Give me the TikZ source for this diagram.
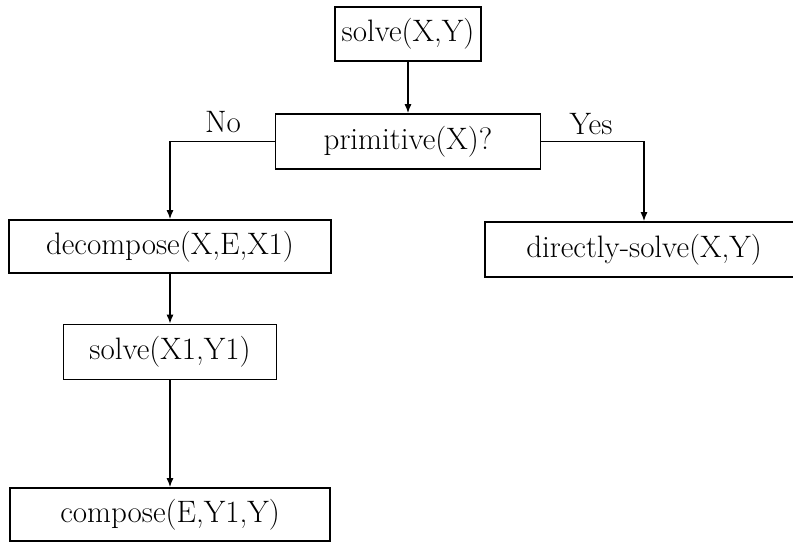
\documentclass[tikz,border=0pt]{standalone}
\usepackage{tikz}
\usetikzlibrary{arrows.meta}
\tikzset{
    box/.style={draw=black, line width=0.8pt, inner sep=0pt, font=\fontsize{15.5}{18}\selectfont},
    flow/.style={-{Latex[length=4.5pt,width=3.5pt]}, line width=0.7pt},
    answer/.style={font=\fontsize{15.5}{18}\selectfont}
}

\begin{document}
\begin{tikzpicture}[x=0.5pt, y=0.5pt]
    \useasboundingbox (0,0) rectangle (793,543);
    \node[box, minimum width=73pt, minimum height=27pt] (solve) at (408,509) {solve(X,Y)};
    \node[box, minimum width=132.5pt, minimum height=27.5pt] (primitive) at (408,401.5) {primitive(X)?};
    \node[box, minimum width=161pt, minimum height=26.5pt] (decompose) at (170,296.5) {decompose(X,E,X1)};
    \node[box, minimum width=159pt, minimum height=27.5pt] (direct) at (644,293.5) {directly-solve(X,Y)};
    \node[box, minimum width=106.5pt, minimum height=27.5pt] (solvesub) at (170,191) {solve(X1,Y1)};
    \node[box, minimum width=160pt, minimum height=26.5pt] (compose) at (170,28.5) {compose(E,Y1,Y)};
    \node[answer] (no) at (223,421) {No};
    \node[answer] (yes) at (591,419) {Yes};
    \draw[flow] (solve) -- (primitive);
    \draw[flow] (primitive.west) -| (decompose.north);
    \draw[flow] (primitive.east) -| (direct.north);
    \draw[flow] (decompose) -- (solvesub);
    \draw[flow] (solvesub) -- (compose);
\end{tikzpicture}
\end{document}
